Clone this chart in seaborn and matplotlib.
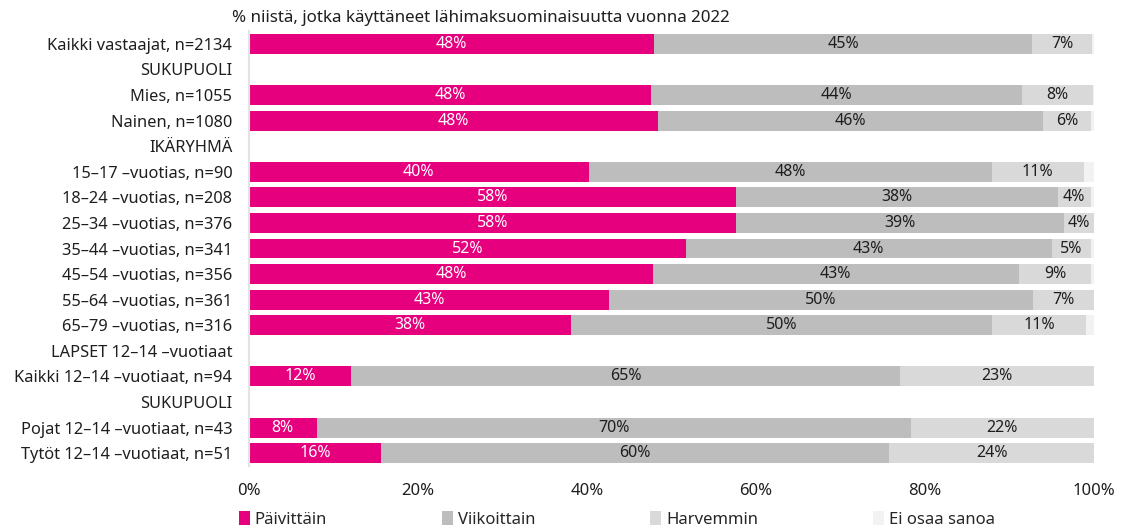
import matplotlib
matplotlib.use("Agg")
import matplotlib.pyplot as plt
import seaborn as sns
import pandas as pd
import numpy as np
from matplotlib.patches import Patch

# rows top to bottom, header rows have no values
labels = ["Kaikki vastaajat, n=2134", "SUKUPUOLI", "Mies, n=1055", "Nainen, n=1080",
          "IKÄRYHMÄ", "15–17 –vuotias, n=90", "18–24 –vuotias, n=208",
          "25–34 –vuotias, n=376", "35–44 –vuotias, n=341", "45–54 –vuotias, n=356",
          "55–64 –vuotias, n=361", "65–79 –vuotias, n=316", "LAPSET 12–14 –vuotiaat",
          "Kaikki 12–14 –vuotiaat, n=94", "SUKUPUOLI", "Pojat 12–14 –vuotiaat, n=43",
          "Tytöt 12–14 –vuotiaat, n=51"]

paivittain = [47.9, 0, 47.6, 48.4, 0, 40.2, 57.6, 57.6, 51.7, 47.8, 42.6, 38.1, 0, 12.1, 0, 8.0, 15.6]
viikoittain = [44.8, 0, 43.9, 45.6, 0, 47.7, 38.1, 38.8, 43.3, 43.3, 50.2, 49.8, 0, 64.9, 0, 70.3, 60.2]
harvemmin = [7.1, 0, 8.4, 5.7, 0, 10.9, 3.9, 3.6, 4.7, 8.6, 7.2, 11.2, 0, 23.0, 0, 21.7, 24.2]
ei_osaa = [0.2, 0, 0.3, 0.3, 0, 1.2, 0.4, 0.0, 0.3, 0.3, 0.0, 0.9, 0, 0.0, 0, 0.0, 0.0]

series = ["Päivittäin", "Viikoittain", "Harvemmin", "Ei osaa sanoa"]
colors = ["#E6007E", "#BDBDBD", "#D9D9D9", "#F1F2F4"]

df = pd.DataFrame({"row": [str(i) for i in range(len(labels))],
                   "Päivittäin": paivittain, "Viikoittain": viikoittain,
                   "Harvemmin": harvemmin, "Ei osaa sanoa": ei_osaa})
cum = df[series].cumsum(axis=1)

sns.set_style("white")
plt.rcParams["font.family"] = ["Noto Sans", "DejaVu Sans"]

fig = plt.figure(figsize=(11.25, 5.31), dpi=100)
ax = fig.add_axes([0.2213, 0.1224, 0.7511, 0.8192])

order = list(df["row"])
# draw totals first, smaller cumulative sums on top
for s, c in reversed(list(zip(series, colors))):
    sns.barplot(x=cum[s], y=df["row"], order=order, orient="h", color=c,
                width=0.78, linewidth=0, saturation=1, ax=ax)

# value labels in the middle of each segment
for i in range(len(labels)):
    left = 0
    for s, txtcol in zip(series[:3], ["white", "#1e1e1e", "#1e1e1e"]):
        v = df[s][i]
        if v > 0:
            ax.text(left + v / 2, i, f"{round(v)}%", ha="center", va="center",
                    color=txtcol, fontsize=11.5)
        left += v

ax.set_xlim(0, 100)
ax.set_ylim(len(labels) - 0.5, -0.5)
ax.set_xticks([0, 20, 40, 60, 80, 100])
ax.set_xticklabels(["0%", "20%", "40%", "60%", "80%", "100%"], fontsize=12, color="#1e1e1e")
ax.set_yticks(range(len(labels)))
ax.set_yticklabels(labels, fontsize=11.8, color="#1e1e1e")
ax.tick_params(axis="x", length=0, pad=12)
ax.tick_params(axis="y", length=0, pad=12)
ax.set_xlabel("")
ax.set_ylabel("")
for sp in ["top", "right", "bottom"]:
    ax.spines[sp].set_visible(False)
ax.spines["left"].set_color("#E3E3E3")
ax.spines["left"].set_linewidth(1.5)

fig.text(0.2062, 0.967, "% niistä, jotka käyttäneet lähimaksuominaisuutta vuonna 2022",
         fontsize=12.2, color="#1e1e1e", ha="left", va="center")

handles = [Patch(facecolor=c, edgecolor="none") for c in colors]
fig.legend(handles, series, loc="center left", bbox_to_anchor=(0.199, 0.022), ncol=4,
           frameon=False, fontsize=12, handlelength=0.65, handleheight=0.9,
           handletextpad=0.3, columnspacing=6.9)

fig.savefig("out.png", dpi=100)
